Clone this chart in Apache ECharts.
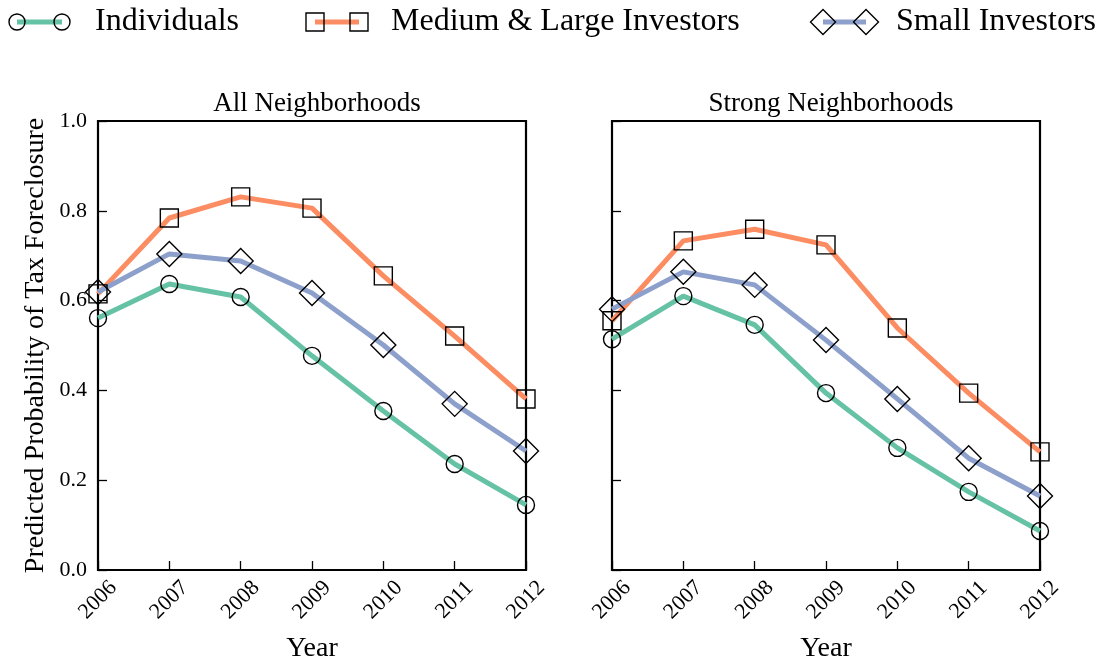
<!DOCTYPE html>
<html>
<head>
<meta charset="utf-8">
<script src="https://cdn.jsdelivr.net/npm/echarts@6/dist/echarts.min.js"></script>
<style>
  html, body { margin: 0; padding: 0; background: #fff; }
  #chart { width: 1108px; height: 659px; }
</style>
</head>
<body>
<div id="chart"></div>
<script>
// Years on the x axis
const years = ['2006', '2007', '2008', '2009', '2010', '2011', '2012'];
// y-axis ticks
const yTicks = [0.0, 0.2, 0.4, 0.6, 0.8, 1.0];

// Panel titles
const panelTitles = ['All Neighborhoods', 'Strong Neighborhoods'];
const seriesNames = ['Individuals', 'Medium & Large Investors', 'Small Investors'];

// All neighborhoods
const allIndividuals = [0.561, 0.637, 0.608, 0.477, 0.354, 0.236, 0.145];
const allMediumLarge = [0.615, 0.784, 0.831, 0.806, 0.655, 0.521, 0.381];
const allSmall       = [0.619, 0.704, 0.688, 0.617, 0.501, 0.370, 0.265];

// Strong neighborhoods
const strongIndividuals = [0.514, 0.610, 0.546, 0.394, 0.272, 0.174, 0.087];
const strongMediumLarge = [0.555, 0.733, 0.759, 0.724, 0.539, 0.394, 0.263];
const strongSmall       = [0.581, 0.664, 0.635, 0.512, 0.381, 0.249, 0.165];

const FONT = '"Liberation Serif", "DejaVu Serif", serif';
const colors = ['#66c2a5', '#fc8d62', '#8da0cb'];
const symbols = ['circle', 'rect', 'diamond'];
const symbolSizes = [17, 18, [25, 25]];

const grids = [
  { left: 98, top: 121, width: 428, height: 449 },
  { left: 612, top: 121, width: 428, height: 449 }
];

function xAxis(i) {
  return {
    type: 'category', gridIndex: i, data: years, boundaryGap: false,
    name: 'Year', nameLocation: 'middle', nameGap: 65,
    nameTextStyle: { fontFamily: FONT, fontSize: 28, color: '#000' },
    axisLine: { show: false },
    axisTick: { show: true, inside: true, length: 9, lineStyle: { color: '#000', width: 1.3 } },
    // rotated year labels centred under each tick
    axisLabel: {
      rotate: 45, margin: 30, align: 'center', verticalAlign: 'middle',
      fontFamily: FONT, fontSize: 22, color: '#000'
    },
    splitLine: { show: false }
  };
}

function yAxis(i) {
  return {
    type: 'value', gridIndex: i, min: 0, max: 1, interval: 0.2,
    name: i === 0 ? 'Predicted Probability of Tax Foreclosure' : '',
    nameLocation: 'middle', nameGap: 48, nameRotate: 90,
    nameTextStyle: { fontFamily: FONT, fontSize: 28, color: '#000' },
    axisLine: { show: false },
    axisTick: { show: true, inside: true, length: 9, lineStyle: { color: '#000', width: 1.3 } },
    axisLabel: {
      show: i === 0, margin: 11, fontFamily: FONT, fontSize: 22, color: '#000',
      formatter: v => yTicks.includes(Math.round(v * 10) / 10) ? v.toFixed(1) : ''
    },
    splitLine: { show: false }
  };
}

function lineSeries(name, data, k, gi) {
  return {
    name, type: 'line', data, xAxisIndex: gi, yAxisIndex: gi,
    symbol: symbols[k], symbolSize: symbolSizes[k], showAllSymbol: true,
    clip: false,
    lineStyle: { color: colors[k], width: 5 },
    itemStyle: { color: 'rgba(0,0,0,0)', borderColor: '#000', borderWidth: 1.4 },
    emphasis: { disabled: true },
    z: 3
  };
}

// Legend drawn as line + marker pairs at the top of the canvas
function legendGraphics() {
  const items = [
    { x1: 17, x2: 62, tx: 95 },
    { x1: 315, x2: 359, tx: 391 },
    { x1: 823, x2: 866, tx: 896 }
  ];
  const y = 22;
  const out = [];
  items.forEach((it, k) => {
    out.push({ type: 'line', shape: { x1: it.x1, y1: y, x2: it.x2, y2: y },
      style: { stroke: colors[k], lineWidth: 5 }, z: 10 });
    [it.x1, it.x2].forEach(cx => {
      let shape;
      if (k === 0) shape = { type: 'circle', shape: { cx, cy: y, r: 8 } };
      else if (k === 1) shape = { type: 'rect', shape: { x: cx - 9, y: y - 9, width: 18, height: 18 } };
      else shape = { type: 'polygon', shape: { points: [[cx, y - 12.5], [cx + 12.5, y], [cx, y + 12.5], [cx - 12.5, y]] } };
      shape.style = { fill: 'none', stroke: '#000', lineWidth: 1.4 };
      shape.z = 11;
      out.push(shape);
    });
    out.push({ type: 'text', x: it.tx, y, style: {
      text: seriesNames[k], font: '32px ' + FONT, fill: '#000', textVerticalAlign: 'middle'
    }, z: 11 });
  });
  return out;
}

const chart = echarts.init(document.getElementById('chart'), null, { renderer: 'canvas' });
chart.setOption({
  backgroundColor: '#fff',
  animation: false,
  title: panelTitles.map((t, i) => ({
    text: t, left: grids[i].left + grids[i].width / 2, top: 85, textAlign: 'center',
    textStyle: { fontFamily: FONT, fontSize: 27, fontWeight: 'normal', color: '#000' }
  })),
  grid: grids.map(g => Object.assign({
    show: true, borderColor: '#000', borderWidth: 2.2, backgroundColor: 'transparent',
    containLabel: false, outerBoundsMode: 'none'
  }, g)),
  xAxis: [xAxis(0), xAxis(1)],
  yAxis: [yAxis(0), yAxis(1)],
  graphic: legendGraphics(),
  series: [
    lineSeries(seriesNames[0], allIndividuals, 0, 0),
    lineSeries(seriesNames[1], allMediumLarge, 1, 0),
    lineSeries(seriesNames[2], allSmall, 2, 0),
    lineSeries(seriesNames[0], strongIndividuals, 0, 1),
    lineSeries(seriesNames[1], strongMediumLarge, 1, 1),
    lineSeries(seriesNames[2], strongSmall, 2, 1)
  ]
});
</script>
</body>
</html>
